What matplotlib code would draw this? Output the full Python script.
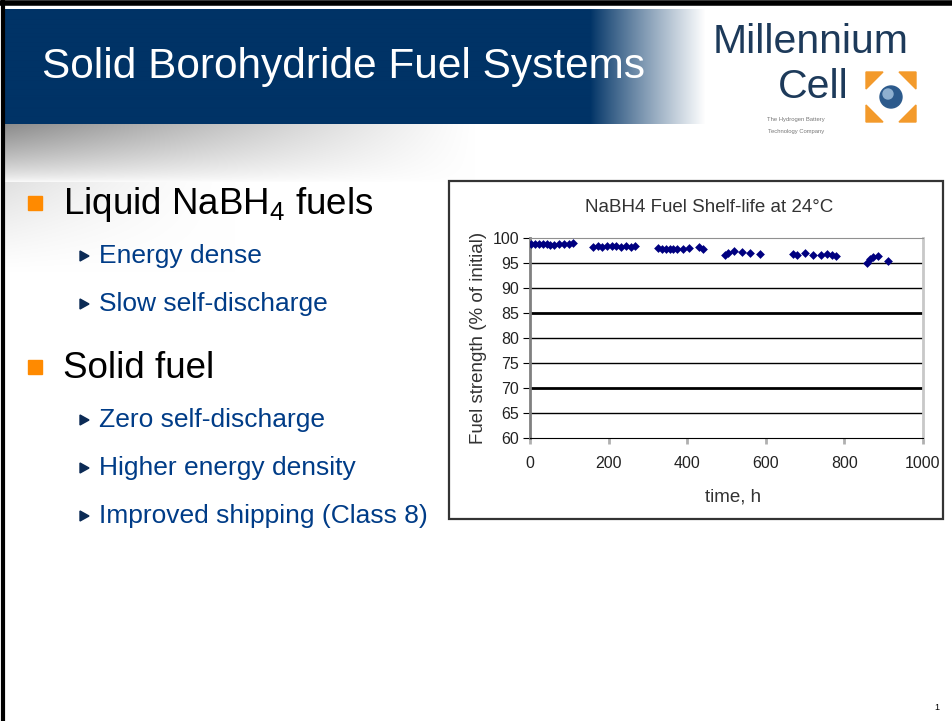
import numpy as np
import matplotlib
matplotlib.use("Agg")
import matplotlib.pyplot as plt
from matplotlib.patches import Rectangle, Polygon, Circle

# ---------------- data ----------------
time_h = [2, 12, 22, 32, 42, 52, 62, 74, 86, 100, 110,
          160, 172, 184, 196, 208, 220, 232, 244, 256, 268,
          325, 335, 345, 355, 365, 375, 390, 405, 430, 440,
          495, 505, 520, 540, 560, 585,
          668, 680, 700, 720, 740, 755, 768, 778,
          858, 865, 872, 885, 912]
strength = [98.8, 98.8, 98.7, 98.8, 98.7, 98.6, 98.5, 98.7, 98.7, 98.7, 98.9,
            98.2, 98.3, 98.2, 98.3, 98.4, 98.3, 98.2, 98.3, 98.2, 98.4,
            98.0, 97.8, 97.7, 97.8, 97.8, 97.8, 97.8, 97.9, 98.2, 97.8,
            96.6, 97.0, 97.3, 97.2, 97.0, 96.8,
            96.8, 96.6, 97.0, 96.6, 96.6, 96.7, 96.6, 96.3,
            95.0, 95.8, 96.1, 96.3, 95.3]
y_ticks = [60, 65, 70, 75, 80, 85, 90, 95, 100]
x_ticks = [0, 200, 400, 600, 800, 1000]
chart_title = "NaBH4 Fuel Shelf-life at 24°C"
x_label = "time, h"
y_label = "Fuel strength (% of initial)"

slide_title = "Solid Borohydride Fuel Systems"
bullets = [("Liquid NaBH$_4$ fuels", ["Energy dense", "Slow self-discharge"]),
           ("Solid fuel", ["Zero self-discharge", "Higher energy density",
                           "Improved shipping (Class 8)"])]

W, H = 953, 721
plt.rcParams['font.family'] = ['Liberation Sans', 'DejaVu Sans']
plt.rcParams['mathtext.fontset'] = 'custom'
plt.rcParams['mathtext.rm'] = 'Liberation Sans'
fig = plt.figure(figsize=(W / 100, H / 100), dpi=100)

# background axes in pixel coordinates
bg = fig.add_axes([0, 0, 1, 1])
bg.set_xlim(0, W)
bg.set_ylim(H, 0)
bg.axis('off')

navy = np.array([0, 51, 102]) / 255.0
# title bar with gradient to white
nx = 700
grad = np.ones((1, nx, 3))
xs = np.arange(nx)
t = np.clip((xs - 585) / 115.0, 0, 1) ** 0.9
for c in range(3):
    grad[0, :, c] = navy[c] * (1 - t) + 1.0 * t
bg.imshow(grad, extent=[5, 5 + nx, 124, 9], aspect='auto', interpolation='bilinear', zorder=1)

# gray shadow band under the title bar
gh, gw = 58, 470
yy, xx = np.mgrid[0:gh, 0:gw]
a = (1 - xx / gw) ** 1.1 * (1 - yy / gh) ** 0.7
g = 1 - 0.45 * a
shadow = np.dstack([g, g, g])
bg.imshow(shadow, extent=[5, 5 + gw, 124 + gh, 124], aspect='auto', interpolation='bilinear', zorder=1)
gh2, gw2 = 90, 230
yy, xx = np.mgrid[0:gh2, 0:gw2]
a2 = (1 - xx / gw2) ** 1.5 * (1 - yy / gh2) ** 1.2
g2 = 1 - 0.12 * a2
bg.imshow(np.dstack([g2, g2, g2]), extent=[5, 5 + gw2, 182 + gh2, 182], aspect='auto',
          interpolation='bilinear', zorder=1)

# borders
bg.plot([0, W], [3, 3], color='black', lw=4, zorder=5, solid_capstyle='butt')
bg.plot([3, 3], [0, H], color='black', lw=3, zorder=5, solid_capstyle='butt')

bg.text(42, 67, slide_title, color='white', fontsize=30.5, va='center', ha='left', zorder=6)

# logo
logo_col = '#1d3a5a'
bg.text(909, 53, "Millennium", color=logo_col, fontsize=29.5, ha='right', va='baseline', zorder=6)
bg.text(849, 98, "Cell", color=logo_col, fontsize=29.5, ha='right', va='baseline', zorder=6)
bg.text(796, 119, "The Hydrogen Battery", color='#777777', fontsize=4.2, ha='center', va='center', zorder=6)
bg.text(796, 131, "Technology Company", color='#777777', fontsize=4.2, ha='center', va='center', zorder=6)
orange = '#f39a2b'
cx, cy, s = 891, 97, 25
bg.add_patch(Polygon([[cx - s, cy - s], [cx - 8, cy - s], [cx - s, cy - 8]], color=orange, zorder=6))
bg.add_patch(Polygon([[cx + s, cy - s], [cx + 8, cy - s], [cx + s, cy - 8]], color=orange, zorder=6))
bg.add_patch(Polygon([[cx - s, cy + s], [cx - 8, cy + s], [cx - s, cy + 8]], color=orange, zorder=6))
bg.add_patch(Polygon([[cx + s, cy + s], [cx + 8, cy + s], [cx + s, cy + 8]], color=orange, zorder=6))
bg.add_patch(Circle((cx, cy), 11, color='#2c5a8c', zorder=7))
bg.add_patch(Circle((cx - 3, cy - 3), 5, color='#8fb0d0', zorder=8))

# bullets
sub_col = '#003c87'
ypos = 203
for main, subs in bullets:
    bg.add_patch(Rectangle((28, ypos - 7), 14, 14, color='#ff8a00', zorder=6))
    bg.text(63, ypos + 1, main, color='black', fontsize=26.5, va='center', ha='left', zorder=6)
    ypos += 53
    for sub in subs:
        bg.add_patch(Polygon([[80, ypos - 5], [80, ypos + 5], [89, ypos]], color='#0b2a55', zorder=6))
        bg.text(99, ypos, sub, color=sub_col, fontsize=19, va='center', ha='left', zorder=6)
        ypos += 48
    ypos += 15
bg.text(937, 707, "1", fontsize=6.5, ha='center', va='center', color='black')

# chart frame
bg.add_patch(Rectangle((449, 181), 494, 338, fill=False, edgecolor='#333333', lw=1.6, zorder=6))
bg.text(709, 208, chart_title, fontsize=13.5, color='#333333', ha='center', va='center', zorder=6)

# ---------------- chart ----------------
ax = fig.add_axes([530 / W, 1 - 438 / H, 393 / W, 200 / H])
ax.set_facecolor('white')
ax.scatter(time_h, strength, marker='D', s=20, color='#000080', zorder=5, linewidths=0)
ax.set_xlim(0, 1000)
ax.set_ylim(60, 100)
ax.set_xticks(x_ticks)
ax.set_yticks(y_ticks)
for v in y_ticks[1:-1]:
    ax.axhline(v, color='black', lw=2.0 if v in (70, 85) else 1.0, zorder=2)
ax.spines['left'].set_color('#808080')
ax.spines['left'].set_linewidth(2)
ax.spines['top'].set_color('#909090')
ax.spines['right'].set_color('#c8c8c8')
ax.spines['right'].set_linewidth(2)
ax.spines['bottom'].set_color('black')
ax.tick_params(axis='y', direction='out', length=5, color='black', labelsize=11.5,
               labelcolor='#222222', pad=3)
ax.tick_params(axis='x', direction='out', length=4, color='#b0b0b0', width=2, labelsize=11.5,
               labelcolor='#222222', pad=9)
ax.set_xlabel(x_label, fontsize=13.5, color='#333333')
ax.xaxis.set_label_coords((733 - 530) / 393, -0.255)
ax.set_ylabel(y_label, fontsize=13.5, color='#333333', labelpad=4)

fig.savefig("out.png", dpi=100)
